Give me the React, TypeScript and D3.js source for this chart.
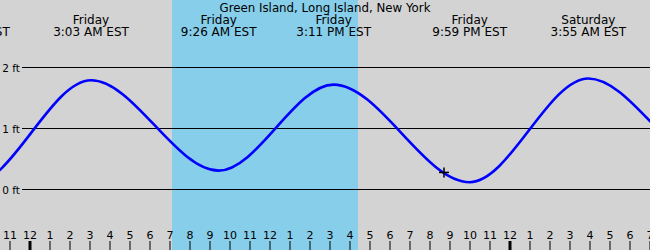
import React from "react";
import * as d3 from "d3";

const title = "Green Island, Long Island, New York";
// tide extremes: hours from Friday 00:00, height in ft
const extremeHours = [-9.2, -2.88, 3.05, 9.433, 15.183, 21.983, 27.917, 34.2, 40.5];
const extremeHeights = [1.7, 0.09, 1.79, 0.31, 1.72, 0.12, 1.82, 0.38, 1.75];
const extremeDays = ["Thursday", "Thursday", "Friday", "Friday", "Friday", "Friday", "Saturday", "Saturday", "Saturday"];
const extremeTimes = ["2:48 PM EST", "9:07 PM EST", "3:03 AM EST", "9:26 AM EST", "3:11 PM EST", "9:59 PM EST", "3:55 AM EST", "10:12 AM EST", "4:30 PM EST"];
const daylight = [7.1, 16.4];
const nowHour = [20.7];
const nowHeight = [0.28];
const footTicks = [0, 1, 2];
const hourTicks = d3.range(-1, 32);

const W = 650;
const H = 250;
const FONT = "DejaVu Sans, sans-serif";

export default function App() {
  const x = d3.scaleLinear().domain([-1.5, 31]).range([0, W]);
  const y = d3.scaleLinear().domain([0, 2]).range([189.5, 67.5]);
  const pts: [number, number][] = extremeHours.map((h, i) => [x(h), y(extremeHeights[i])]);
  const line = d3.line().curve(d3.curveMonotoneX)(pts) || "";
  const hourLabel = (h: number) => {
    const m = ((h % 12) + 12) % 12;
    return String(m === 0 ? 12 : m);
  };
  return (
    <svg width={W} height={H} style={{ position: "absolute", left: 0, top: 0 }} fontFamily={FONT}>
      <defs>
        <clipPath id="clip">
          <rect x={0} y={0} width={W} height={H} />
        </clipPath>
      </defs>
      <rect x={0} y={0} width={W} height={H} fill="#d3d3d3" />
      <rect x={x(daylight[0])} y={0} width={x(daylight[1]) - x(daylight[0])} height={H} fill="#87ceeb" />
      {footTicks.map((f) => (
        <g key={f}>
          <line x1={22} x2={W} y1={y(f)} y2={y(f)} stroke="#000" strokeWidth={1} />
          <text x={20} y={y(f) + 4} fontSize={10.5} textAnchor="end" fill="#000">{`${f} ft`}</text>
        </g>
      ))}
      <path d={line} fill="none" stroke="#0000ff" strokeWidth={2.6} clipPath="url(#clip)" />
      {nowHour.map((h, i) => (
        <g key={i} stroke="#000" strokeWidth={1.5}>
          <line x1={x(h) - 5} x2={x(h) + 5} y1={y(nowHeight[i])} y2={y(nowHeight[i])} />
          <line x1={x(h)} x2={x(h)} y1={y(nowHeight[i]) - 5} y2={y(nowHeight[i]) + 5} />
        </g>
      ))}
      {extremeHours.map((h, i) =>
        x(h) > -40 && x(h) < W - 20 ? (
          <g key={i} fontSize={12} textAnchor="middle" fill="#000">
            {x(h) > 0 ? <text x={x(h)} y={24}>{extremeDays[i]}</text> : null}
            <text x={x(h)} y={36}>{extremeTimes[i]}</text>
          </g>
        ) : null
      )}
      <text x={W / 2} y={12} fontSize={11.8} textAnchor="middle" fill="#000">{title}</text>
      {hourTicks.map((h) => (
        <g key={h}>
          <line x1={x(h)} x2={x(h)} y1={241} y2={H} stroke="#000" strokeWidth={h % 24 === 0 ? 3 : 1} />
          <text x={x(h)} y={239} fontSize={11} textAnchor="middle" fill="#000">{hourLabel(h)}</text>
        </g>
      ))}
    </svg>
  );
}
